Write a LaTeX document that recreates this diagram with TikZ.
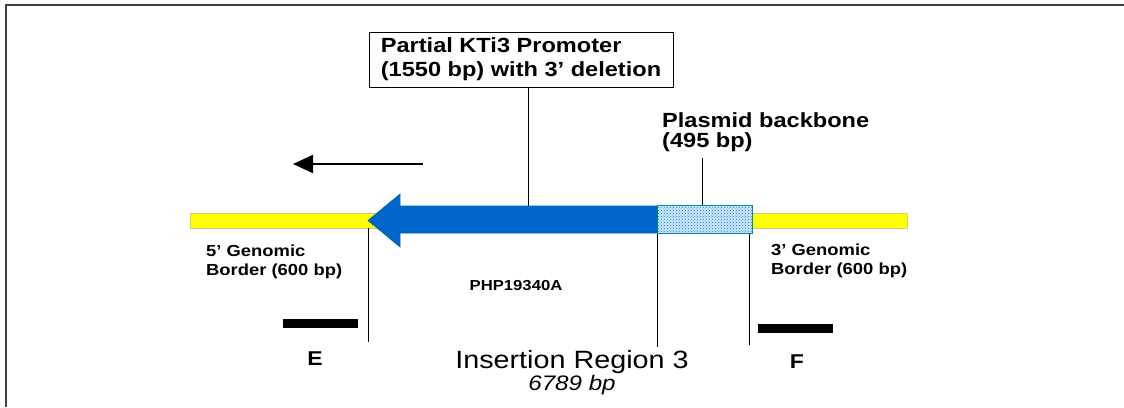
\documentclass[tikz,border=0pt]{standalone}
\usepackage{fontspec}
\setmainfont{Liberation Sans}[FakeStretch=1.15]
\usetikzlibrary{arrows.meta,patterns}

\definecolor{dnablue}{RGB}{0,102,204}
\definecolor{dnaedge}{RGB}{0,100,170}
\definecolor{gyellow}{RGB}{255,255,0}
\definecolor{gedge}{RGB}{215,205,110}
\definecolor{bbfill}{RGB}{200,232,250}
\definecolor{bbdots}{RGB}{40,120,210}
\definecolor{bbedge}{RGB}{0,140,160}

\begin{document}
\begin{tikzpicture}[x=1pt,y=-1pt,
	every node/.style={inner sep=0pt},
	lbl/.style={font=\bfseries\fontsize{16}{19}\selectfont,align=left,anchor=north west},
	big/.style={font=\bfseries\fontsize{20.5}{24}\selectfont,align=left},
	guide/.style={draw=black,line width=0.8pt},
	marker/.style={fill=black,minimum width=75pt,minimum height=9pt}]
	\useasboundingbox (0,0) rectangle (1124,407);
	\draw[line width=1.5pt,black!75] (6,407) -- (6,5) -- (1124,5);
	
	% genomic border and insert
	\node[fill=gyellow,draw=gedge,line width=0.6pt,minimum width=717pt,minimum height=15pt] (yb) at (548.5,220.5) {};
	\fill[dnablue,draw=dnaedge,line width=0.6pt] (657,206) -- (400,206) -- (400,194) -- (368,220.5) -- (400,247) -- (400,233) -- (657,233) -- cycle;
	\node[draw=bbedge,line width=0.8pt,preaction={fill=bbfill},pattern=crosshatch dots,pattern color=bbdots,minimum width=95pt,minimum height=28pt] (pb) at (704.5,219.5) {};
	
	% labels
	\node[big,draw,line width=0.8pt,minimum width=304pt,minimum height=55pt] (pro) at (521,59.5) {Partial KTi3 Promoter\\(1550 bp) with 3' deletion};
	\node[big,anchor=north west,font=\bfseries\fontsize{20.5}{20}\selectfont] (bb) at (662,112) {Plasmid backbone\\(495 bp)};
	\node[lbl] (g5) at (206,245) {5' Genomic\\Border (600 bp)};
	\node[lbl] (g3) at (771,244) {3' Genomic\\Border (600 bp)};
	\node[font=\bfseries\fontsize{14.5}{17}\selectfont,anchor=base] (php) at (516,290) {PHP19340A};
	\node[font=\fontsize{25}{30}\selectfont,anchor=base] (ir) at (572,368) {Insertion Region 3};
	\node[font=\itshape\fontsize{21}{25}\selectfont,anchor=base] (len) at (572,390) {6789 bp};
	
	% primer markers
	\node[marker] (eb) at (320.5,323.5) {};
	\node[marker] (fb) at (795,328) {};
	\node[font=\bfseries\fontsize{20}{24}\selectfont] (e) at (315,359) {E};
	\node[font=\bfseries\fontsize{20}{24}\selectfont] (f) at (797,362) {F};
	
	% connectors
	\coordinate (pj) at (528,206);
	\coordinate (bj) at (702,158);
	\coordinate (v1) at (368,342);
	\coordinate (v2) at (657,347);
	\coordinate (v3) at (749,345);
	\draw[guide] (pj |- pro.south) -- (pj);
	\draw[guide] (bj) -- (bj |- pb.north);
	\draw[guide] (v1 |- yb.south) -- (v1);
	\draw[guide] (v2 |- pb.south) -- (v2);
	\draw[guide] (v3 |- pb.south) -- (v3);
	
	% direction
	\coordinate (as) at (423,164);
	\coordinate (ae) at (293,164);
	\draw[line width=2pt,-{Triangle[length=20pt,width=18pt]}] (as) -- (ae);
\end{tikzpicture}
\end{document}
